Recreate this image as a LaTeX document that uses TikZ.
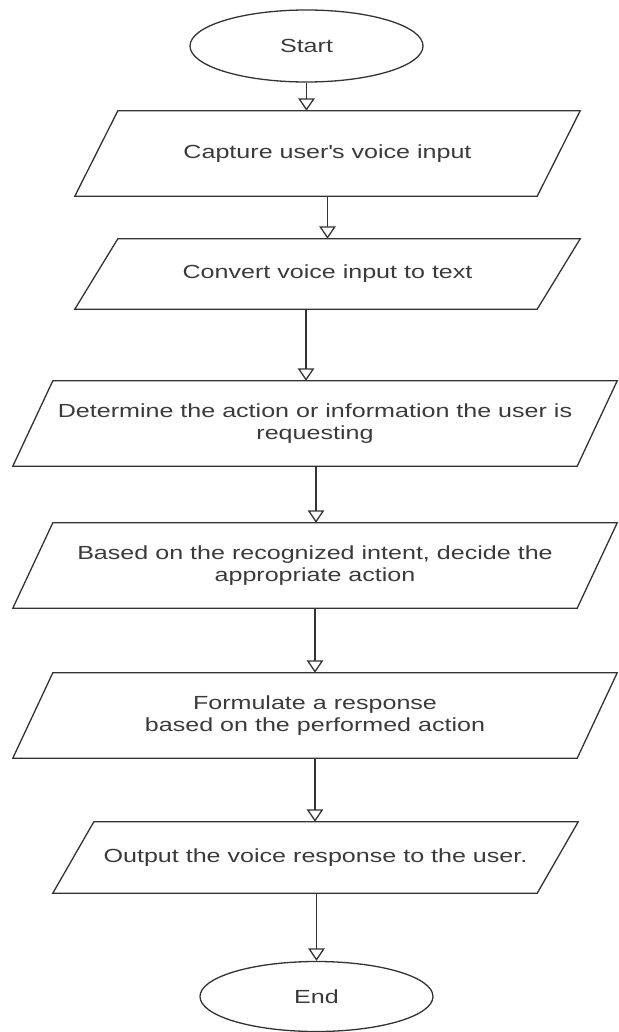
\documentclass[tikz,border=0pt]{standalone}
\usepackage{fontspec}
\setmainfont{Liberation Sans}[FakeStretch=1.32]
\usetikzlibrary{arrows.meta,shapes.geometric}
\definecolor{ink}{HTML}{333333}
\definecolor{txt}{HTML}{3A3A3A}
% process box drawn as a parallelogram around a text node
% #1 name, #2 cx, #3 cy, #4 edge length, #5 height, #6 half slant, #7 text
\newcommand{\ioshape}[7]{%
  \node[iotext, minimum width=#4pt, minimum height=#5pt] (#1) at (#2,#3) {#7};
  \draw[outline] ([xshift=#6pt]#1.north west) -- ([xshift=#6pt]#1.north east)
    -- ([xshift=-#6pt]#1.south east) -- ([xshift=-#6pt]#1.south west) -- cycle;
}
\begin{document}
\begin{tikzpicture}[x=1pt,y=-1pt,
  outline/.style={draw=ink, line width=1.3pt, line join=miter},
  iotext/.style={inner sep=0pt, align=center, text=txt, font=\fontsize{19}{22}\selectfont},
  terminal/.style={ellipse, outline, inner sep=0pt, text=txt, font=\fontsize{19}{22}\selectfont},
  flow/.style={draw=ink, line width=1.3pt, -{Triangle[open, width=16.5pt, length=12.5pt, line width=1.3pt]}}]
\useasboundingbox (0,0) rectangle (618,1032);

\node[terminal, minimum width=233pt, minimum height=72pt] (start) at (306.5,46) {Start};

\ioshape{p1}{327.5}{153.5}{462}{85}{21.5}{Capture user\textquotesingle s voice input}
\ioshape{p2}{327.5}{274}{462}{70}{21.5}{Convert voice input to text}
\ioshape{p3}{315}{423.5}{564}{85}{20}{Determine the action or information the user is\\requesting}
\ioshape{p4}{315}{565.5}{564}{85}{20}{Based on the recognized intent, decide the\\appropriate action}
\ioshape{p5}{315}{715.5}{564}{85}{20}{Formulate a response\\based on the performed action}
\ioshape{p6}{315.5}{857.5}{484}{71}{20.5}{Output the voice response to the user.}

\node[terminal, minimum width=233pt, minimum height=70pt] (end) at (316.5,996.5) {End};

\draw[flow] (start.south) -- (start.south |- p1.north);
\draw[flow] (p1.south) -- (p1.south |- p2.north);
\draw[flow] ([xshift=-21.5pt]p2.south) -- ([xshift=-21.5pt]p2.south |- p3.north);
\draw[flow] ([xshift=1pt]p3.south) -- ([xshift=1pt]p3.south |- p4.north);
\draw[flow] (p4.south) -- (p4.south |- p5.north);
\draw[flow] (p5.south) -- (p5.south |- p6.north);
\draw[flow] ([xshift=1pt]p6.south) -- ([xshift=1pt]p6.south |- end.north);
\end{tikzpicture}
\end{document}
